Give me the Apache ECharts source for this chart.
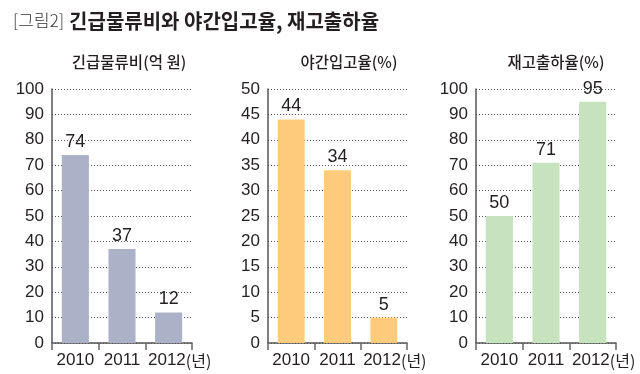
<!DOCTYPE html>
<html>
<head>
<meta charset="utf-8">
<script src="https://cdn.jsdelivr.net/npm/echarts@6/dist/echarts.min.js"></script>
<style>
html,body{margin:0;padding:0;background:#fff;}
#main{width:640px;height:374px;}
</style>
</head>
<body>
<div id="main"></div>
<script>
// ---- data ----
const years = ['2010', '2011', '2012'];
const yearUnit = '(년)';
const logisticsCost = [74, 37, 12];      // 긴급물류비(억 원)
const nightReceiving = [44, 34, 5];      // 야간입고율(%)
const inventoryShipping = [50, 71, 95];  // 재고출하율(%)
const panelTitles = ['긴급물류비(억 원)', '야간입고율(%)', '재고출하율(%)'];
const axisMax = [100, 50, 100];
const axisStep = [10, 5, 10];
const figureLabel = '[그림2]';
const figureTitle = '긴급물류비와 야간입고율, 재고출하율';

// ---- style ----
const NUM_FONT = '"Liberation Sans Narrow", "Arial Narrow", "Liberation Sans", Arial, sans-serif';
const KR_FONT = '"Noto Sans CJK KR", "Noto Sans", sans-serif';
const TXT = '#231f20';
const colors = ['#abb1c6', '#fecb7c', '#c6e3bd'];
const grids = [
  {left: 52, top: 89, width: 140, height: 254},
  {left: 268, top: 89, width: 139, height: 254},
  {left: 476, top: 89, width: 140, height: 254}
];
const titleCenters = [124, 344, 551];
const seriesData = [logisticsCost, nightReceiving, inventoryShipping];

const chart = echarts.init(document.getElementById('main'), null, {renderer: 'canvas'});

const option = {
  backgroundColor: '#fff',
  animation: false,
  title: [
    {
      text: '{a|' + figureLabel + '} {b|' + figureTitle + '}',
      left: 8, top: 6,
      textStyle: {
        rich: {
          a: {fontFamily: KR_FONT, fontSize: 17, fontWeight: 300, color: '#333'},
          b: {fontFamily: KR_FONT, fontSize: 20, fontWeight: 'bold', color: TXT}
        }
      }
    }
  ].concat(panelTitles.map((t, i) => ({
    text: t,
    left: titleCenters[i], top: 49,
    textAlign: 'center',
    textStyle: {fontFamily: KR_FONT, fontSize: 15.5, fontWeight: 500, color: TXT}
  }))),
  grid: grids,
  xAxis: grids.map((g, i) => ({
    type: 'category',
    gridIndex: i,
    data: years,
    axisLine: {show: true, lineStyle: {color: '#555', width: 1.5}},
    axisTick: {show: true, length: 7, lineStyle: {color: '#666', width: 1.5}},
    axisLabel: {
      interval: 0,
      margin: 9,
      color: TXT,
      fontFamily: NUM_FONT,
      fontSize: 17,
      formatter: (v, idx) => idx === years.length - 1 ? '{s|}' + v + '{u|' + yearUnit + '}' : v,
      rich: {
        s: {width: 22},
        u: {fontFamily: KR_FONT, fontSize: 16, color: TXT}
      }
    },
    splitLine: {show: false}
  })),
  yAxis: grids.map((g, i) => ({
    type: 'value',
    gridIndex: i,
    min: 0,
    max: axisMax[i],
    interval: axisStep[i],
    axisLine: {show: true, lineStyle: {color: '#555', width: 1.5}},
    axisTick: {show: false},
    axisLabel: {margin: 8, color: TXT, fontFamily: NUM_FONT, fontSize: 17},
    splitLine: {show: true, lineStyle: {color: '#555', type: [1, 2], width: 1}}
  })),
  series: seriesData.map((d, i) => ({
    type: 'bar',
    xAxisIndex: i,
    yAxisIndex: i,
    data: d,
    barWidth: '58%',
    itemStyle: {color: colors[i]},
    label: {
      show: true,
      position: 'top',
      distance: 4,
      color: TXT,
      fontFamily: NUM_FONT,
      fontSize: 18
    },
    z: 3
  }))
};
chart.setOption(option);
</script>
</body>
</html>
